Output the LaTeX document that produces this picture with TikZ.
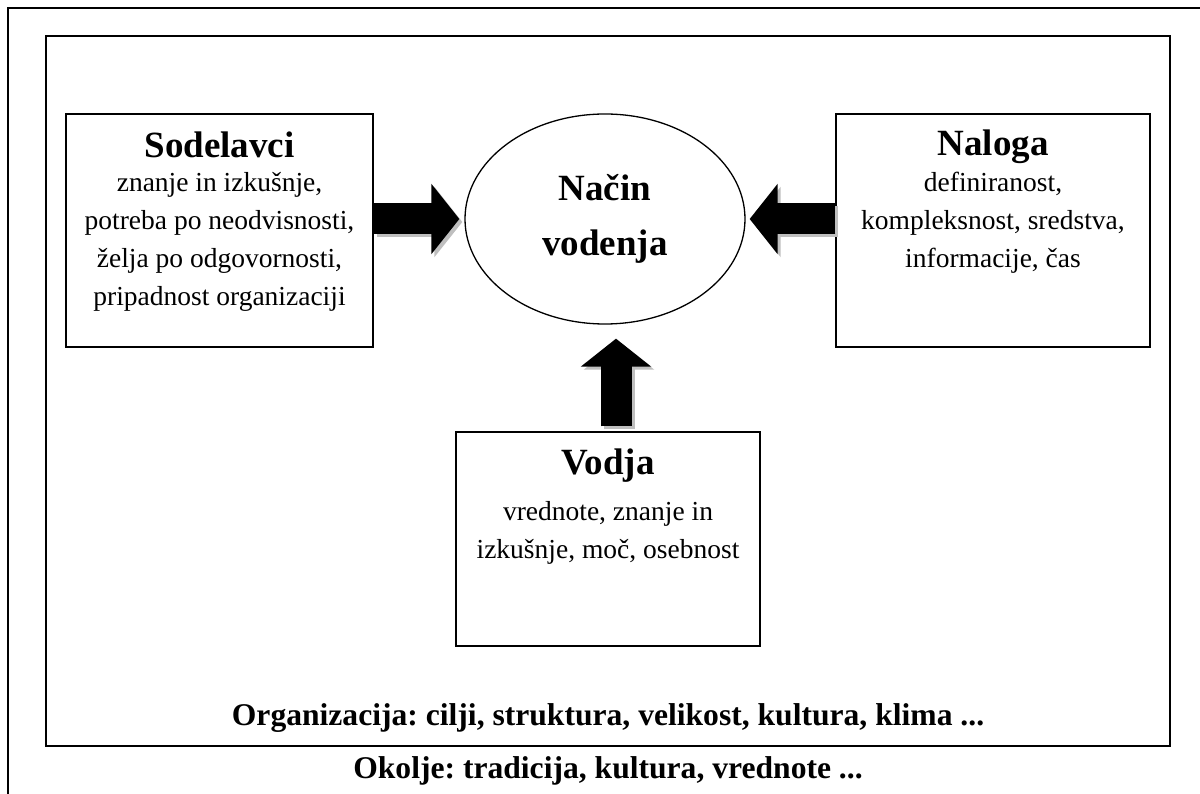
\documentclass[tikz,border=0pt]{standalone}
\usepackage{fontspec}
\setmainfont{Liberation Serif}
\frenchspacing
\usetikzlibrary{shapes.geometric,arrows.meta}

\begin{document}
\begin{tikzpicture}[x=1pt, y=-1pt, line width=1.3pt,
  box/.style={draw, rectangle, inner sep=0pt},
  headT/.style={inner sep=0pt, font=\fontsize{37}{44}\selectfont\bfseries},
  bodyT/.style={inner sep=0pt, align=center, font=\fontsize{27.5}{38}\selectfont},
  footT/.style={inner sep=0pt, font=\fontsize{31.6}{38}\selectfont\bfseries},
  blockarrow/.style={line width=31pt, -{Triangle[length=28pt, width=69pt]}},
  shadearrow/.style={blockarrow, draw=black!25, transform canvas={xshift=3pt, yshift=-3pt}}]
\useasboundingbox (0,0) rectangle (1200,794);
% frames
\draw[line width=2pt] (8,820) -- (8,8) -- (1220,8);
\node[box, line width=2pt, minimum width=1124, minimum height=710] (org) at (608,391) {};
\node[footT] (orgT) at (608,718) {Organizacija: cilji, struktura, velikost, kultura, klima ...};
\node[footT] (env) at (608,771) {Okolje: tradicija, kultura, vrednote ...};
% centre
\node[draw, ellipse, minimum width=280, minimum height=210, inner sep=0pt, align=center,
  font=\fontsize{37}{55}\selectfont\bfseries] (nacin) at (605,219) {Način\\vodenja};
% Sodelavci
\node[box, minimum width=307, minimum height=233] (sod) at (219.5,230.5) {};
\node[headT] (sodT) at (219.5,145) {Sodelavci};
\node[bodyT] (sodB) at (219.5,242) {znanje in izkušnje,\\potreba po neodvisnosti,\\želja po odgovornosti,\\pripadnost organizaciji};
% Naloga
\node[box, minimum width=314, minimum height=233] (nal) at (993,230.5) {};
\node[headT] (nalT) at (993,147) {Naloga};
\node[bodyT] (nalB) at (993,223) {definiranost,\\kompleksnost, sredstva,\\informacije, čas};
% Vodja
\node[box, minimum width=304, minimum height=214] (vod) at (608,539) {};
\node[headT] (vodT) at (608,466) {Vodja};
\node[bodyT] (vodB) at (608,533) {vrednote, znanje in\\izkušnje, moč, osebnost};
% arrows
\draw[shadearrow, shorten >=5pt] (sod.east |- nacin.west) -- (nacin.west);
\draw[blockarrow, shorten >=5pt] (sod.east |- nacin.west) -- (nacin.west);
\draw[shadearrow, shorten >=4pt] (nal.west |- nacin.east) -- (nacin.east);
\draw[blockarrow, shorten >=4pt] (nal.west |- nacin.east) -- (nacin.east);
\draw[shadearrow, shorten <=5pt, shorten >=14pt] ([xshift=8pt]vod.north) -- ([xshift=8pt]vod.north |- nacin.south);
\draw[blockarrow, shorten <=5pt, shorten >=14pt] ([xshift=8pt]vod.north) -- ([xshift=8pt]vod.north |- nacin.south);
\end{tikzpicture}
\end{document}
